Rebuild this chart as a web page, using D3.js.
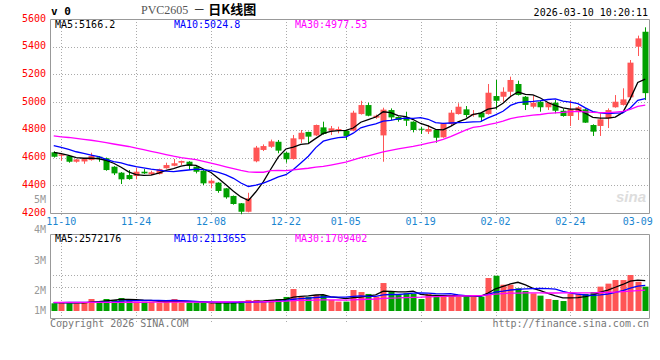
<!DOCTYPE html>
<html>
<head>
<meta charset="utf-8">
<script src="https://cdn.jsdelivr.net/npm/d3@7/dist/d3.min.js"></script>
<style>
  body { margin: 0; background: #fff; }
  svg text { font-family: "DejaVu Sans Mono", monospace; font-size: 10px; }
</style>
</head>
<body>
<div id="chart"></div>
<script>
// trading days shown (11-07 .. 03-10)
const dates = ["11-07","11-10","11-11","11-12","11-13","11-14","11-17","11-18","11-19","11-20",
  "11-21","11-24","11-25","11-26","11-27","11-28","12-01","12-02","12-03","12-04",
  "12-05","12-08","12-09","12-10","12-11","12-12","12-15","12-16","12-17","12-18",
  "12-19","12-22","12-23","12-24","12-25","12-26","12-29","12-30","12-31","01-05",
  "01-06","01-07","01-08","01-09","01-12","01-13","01-14","01-15","01-16","01-19",
  "01-20","01-21","01-22","01-23","01-26","01-27","01-28","01-29","01-30","02-02",
  "02-03","02-04","02-05","02-06","02-09","02-10","02-11","02-12","02-13","02-24",
  "02-25","02-26","02-27","03-02","03-03","03-04","03-05","03-06","03-09","03-10"];

const opens = [4638,4613,4611,4570,4572,4582,4606,4595,4534,4491,
  4474,4467,4498,4479,4481,4523,4541,4563,4570,4534,
  4505,4414,4419,4378,4323,4270,4209,4573,4655,4678,
  4714,4635,4590,4732,4785,4760,4818,4794,4800,4794,
  4794,4914,4979,4888,4760,4943,4893,4890,4859,4808,
  4787,4799,4746,4842,4914,4948,4910,4924,4914,5044,
  5039,5075,5131,5039,4967,5003,4963,4996,4938,4900,
  4931,4948,4835,4828,4883,4963,4980,5035,5400,5508];
const highs = [4645,4630,4615,4590,4592,4635,4611,4600,4538,4495,
  4510,4527,4517,4505,4520,4563,4590,4578,4574,4538,
  4510,4443,4422,4380,4326,4272,4346,4684,4695,4730,
  4727,4640,4763,4799,4787,4838,4859,4828,4823,4797,
  4938,5010,4996,4910,4960,4955,4897,4931,4862,4823,
  4835,4802,4850,4943,4992,4972,4943,4927,5131,5160,
  5107,5184,5155,5044,5044,5008,5000,5015,4955,5015,
  4972,4955,4840,4919,4955,5051,5100,5304,5480,5540];
const lows = [4600,4577,4563,4563,4555,4578,4570,4505,4474,4409,
  4440,4443,4482,4474,4478,4520,4538,4546,4510,4486,
  4402,4378,4346,4303,4260,4191,4205,4566,4647,4670,
  4631,4563,4585,4705,4698,4755,4765,4763,4775,4727,
  4790,4910,4898,4880,4570,4871,4859,4828,4782,4770,
  4770,4707,4743,4828,4910,4890,4895,4859,4910,4948,
  5003,5044,5048,4943,4955,4931,4943,4919,4895,4828,
  4871,4850,4756,4756,4813,4960,4975,5015,5333,5015];
const closes = [4606,4623,4570,4587,4590,4611,4599,4510,4486,4443,
  4445,4498,4486,4494,4517,4546,4559,4575,4541,4498,
  4414,4433,4359,4313,4265,4209,4306,4672,4683,4717,
  4650,4588,4739,4779,4751,4835,4770,4811,4806,4756,
  4924,4979,4902,4902,4946,4890,4871,4866,4799,4804,
  4806,4743,4847,4924,4967,4907,4914,4890,5068,5010,
  5075,5160,5052,4980,4996,4963,4996,4938,4900,4948,
  4963,4852,4787,4876,4943,5003,5020,5285,5460,5065];
const volumes = [640000,690000,640000,640000,750000,1000000,830000,1000000,920000,1080000,
  1000000,780000,780000,780000,690000,830000,1000000,690000,690000,690000,
  690000,640000,690000,690000,690000,830000,920000,920000,830000,920000,
  1000000,1170000,1830000,1170000,1170000,1330000,1330000,920000,780000,780000,
  1750000,1580000,1420000,1190000,2330000,1670000,1330000,1470000,1420000,1000000,
  1420000,1190000,1330000,1330000,1190000,1190000,1190000,1190000,2750000,2940000,
  2190000,2190000,1890000,1670000,1470000,1280000,1000000,920000,830000,1420000,
  1420000,1420000,1580000,2030000,2280000,2580000,2580000,3000000,2440000,2030000];

// moving-average values before enough days are on the chart
const ma5Head = [4638,4628,4615,4600];
const ma10Head = [4686,4673,4659,4642,4630,4618,4606,4587,4570];
const ma30Head = [4756,4750,4745,4738,4732,4725,4717,4708,4698,4689,
  4680,4668,4657,4645,4634,4622,4610,4600,4592,4585,
  4572,4560,4547,4533,4520,4507,4497,4494,4494];
const volMa5Head = [690000,690000,680000,670000];
const volMa10Head = [700000,700000,710000,710000,720000,720000,730000,740000,750000];
const volMa30Head = [720000,720000,720000,720000,720000,720000,720000,725000,725000,725000,
  730000,730000,730000,735000,735000,735000,740000,740000,740000,745000,
  745000,745000,750000,750000,755000,755000,760000,765000,770000];

const priceTicks = [4200,4400,4600,4800,5000,5200,5400,5600];
const volTicks = [1,2,3,4,5];
const dateTicks = ["11-10","11-24","12-08","12-22","01-05","01-19","02-02","02-24","03-09"];
const priceMaText = ["MA5:5166.2","MA10:5024.8","MA30:4977.53"];
const volMaText = ["MA5:2572176","MA10:2113655","MA30:1709402"];
const maColors = ["#000000","#0000ff","#ff00ff"];

const upColor = "#ff5555";
const downColor = "#00a000";
const frameColor = "#999";
const gridColor = "#aaa";

function movingAvg(values, n, head) {
    return values.map((v, i) => i < n - 1 ? head[i] : d3.mean(values.slice(i - n + 1, i + 1)));
}

const width = 660, height = 360;
const left = 50, right = 649;
const mainTop = 19, mainBottom = 213;
const volTop = 234, volBottom = 318, volBase = 311;

const svg = d3.select("#chart").append("svg")
    .attr("width", width).attr("height", height)
    .attr("viewBox", `0 0 ${width} ${height}`);

const idx = d3.range(dates.length);
const x = d3.scaleBand().domain(idx).range([left, right]).paddingInner(0.2).paddingOuter(0.1);
const cx = i => x(i) + x.bandwidth() / 2;
const y = d3.scaleLinear().domain([4200, 5600]).range([mainBottom, mainTop]);
const yv = d3.scaleLinear().domain([0, 1e6]).range([volBase, volBase - 12]);
// sina places its volume labels 30px apart, the lowest one held at the bar base
const yvLabel = d3.scaleLinear().domain([1, 5]).range([321, 200]);

// grids
const grid = svg.append("g").attr("stroke", gridColor).attr("stroke-dasharray", "1,2");
grid.selectAll("line.h").data(priceTicks.slice(1, -1)).enter().append("line")
    .attr("x1", left).attr("x2", right)
    .attr("y1", d => Math.round(y(d)) + 0.5).attr("y2", d => Math.round(y(d)) + 0.5);
const gridDates = dateTicks.slice(0, -1);
grid.selectAll("line.v").data(gridDates).enter().append("line")
    .attr("x1", d => Math.round(cx(dates.indexOf(d))) + 0.5)
    .attr("x2", d => Math.round(cx(dates.indexOf(d))) + 0.5)
    .attr("y1", mainTop).attr("y2", mainBottom + 4);
grid.selectAll("line.vv").data(gridDates).enter().append("line")
    .attr("x1", d => Math.round(cx(dates.indexOf(d))) + 0.5)
    .attr("x2", d => Math.round(cx(dates.indexOf(d))) + 0.5)
    .attr("y1", volTop).attr("y2", volBottom + 4);
grid.selectAll("line.hv").data([2, 3]).enter().append("line")
    .attr("x1", left).attr("x2", right)
    .attr("y1", d => Math.round(yv(d * 1e6)) + 0.5).attr("y2", d => Math.round(yv(d * 1e6)) + 0.5);

// watermark
svg.append("text").attr("x", 646).attr("y", 202).attr("text-anchor", "end")
    .style("font-family", "Arial, 'Liberation Sans', sans-serif")
    .style("font-size", "15px").style("font-style", "italic").style("font-weight", "bold")
    .attr("fill", "#ddd").text("sina");

// frames
function frame(t, b) {
    svg.append("path")
        .attr("d", `M${left + 0.5},${t + 0.5}H${right + 0.5}V${b + 0.5}H${left + 0.5}Z`)
        .attr("fill", "none").attr("stroke", frameColor);
}
frame(mainTop, mainBottom);
frame(volTop, volBottom);

// candles
const candles = svg.append("g");
candles.selectAll("line").data(idx).enter().append("line")
    .attr("x1", i => Math.round(cx(i)) + 0.5).attr("x2", i => Math.round(cx(i)) + 0.5)
    .attr("y1", i => y(highs[i])).attr("y2", i => y(lows[i]))
    .attr("stroke", i => closes[i] >= opens[i] ? upColor : downColor);
candles.selectAll("rect").data(idx).enter().append("rect")
    .attr("x", i => Math.round(cx(i)) - 2.5)
    .attr("width", 6)
    .attr("y", i => y(Math.max(opens[i], closes[i])))
    .attr("height", i => Math.max(1, Math.abs(y(opens[i]) - y(closes[i]))))
    .attr("fill", i => closes[i] >= opens[i] ? upColor : downColor);

// volume bars
svg.append("g").selectAll("rect").data(idx).enter().append("rect")
    .attr("x", i => Math.round(cx(i)) - 2.5)
    .attr("width", 6)
    .attr("y", i => yv(volumes[i]))
    .attr("height", i => volBase - yv(volumes[i]))
    .attr("fill", i => closes[i] >= opens[i] ? upColor : downColor);

// moving averages
const priceMas = [movingAvg(closes, 5, ma5Head), movingAvg(closes, 10, ma10Head), movingAvg(closes, 30, ma30Head)];
const volMas = [movingAvg(volumes, 5, volMa5Head), movingAvg(volumes, 10, volMa10Head), movingAvg(volumes, 30, volMa30Head)];
priceMas.forEach((ma, k) => {
    svg.append("path").datum(ma)
        .attr("d", d3.line().x((d, i) => cx(i)).y(d => y(d)))
        .attr("fill", "none").attr("stroke", maColors[k]).attr("stroke-width", 1.3);
});
volMas.forEach((ma, k) => {
    svg.append("path").datum(ma)
        .attr("d", d3.line().x((d, i) => cx(i)).y(d => yv(d)))
        .attr("fill", "none").attr("stroke", maColors[k]).attr("stroke-width", 1.3);
});

// axis labels
svg.append("g").selectAll("text").data(priceTicks).enter().append("text")
    .attr("x", 46).attr("y", d => y(d) + 2.5).attr("text-anchor", "end")
    .attr("fill", "#ff0000").text(d => d);
svg.append("g").selectAll("text").data(volTicks).enter().append("text")
    .attr("x", 46).attr("y", d => Math.min(yvLabel(d), 311) + 3).attr("text-anchor", "end")
    .attr("fill", "#999").text(d => d + "M");
svg.append("g").selectAll("text").data(dateTicks).enter().append("text")
    .attr("x", d => cx(dates.indexOf(d))).attr("y", 225).attr("text-anchor", "middle")
    .attr("fill", "#1a86d0").text(d => d);

// legends
const legendX = [55, 174, 295];
svg.append("g").selectAll("text").data(priceMaText).enter().append("text")
    .attr("x", (d, k) => legendX[k]).attr("y", 28).attr("fill", (d, k) => maColors[k]).text(d => d);
svg.append("g").selectAll("text").data(volMaText).enter().append("text")
    .attr("x", (d, k) => legendX[k]).attr("y", 242).attr("fill", (d, k) => maColors[k]).text(d => d);

// header
svg.append("text").attr("x", 51).attr("y", 15).style("font-weight", "bold").style("font-size", "11px").text("v 0");
const title = svg.append("text").attr("x", 141).attr("y", 14);
title.append("tspan").style("font-family", "'Liberation Serif', serif").style("font-size", "12px")
    .attr("fill", "#555").text("PVC2605");
title.append("tspan").style("font-family", "'Noto Sans CJK SC', sans-serif").style("font-size", "12px")
    .attr("dx", 5).text("－");
title.append("tspan").style("font-family", "'Noto Sans CJK SC', sans-serif").style("font-size", "13px")
    .style("font-weight", "bold").attr("dx", 3).text("日K线图");
svg.append("text").attr("x", 648).attr("y", 16).attr("text-anchor", "end").attr("fill", "#000")
    .text("2026-03-10 10:20:11");

// footer
svg.append("text").attr("x", 50).attr("y", 327).attr("fill", "#777").text("Copyright 2026 SINA.COM");
svg.append("text").attr("x", 649).attr("y", 327).attr("text-anchor", "end").attr("fill", "#777")
    .text("http://finance.sina.com.cn");
</script>
</body>
</html>
